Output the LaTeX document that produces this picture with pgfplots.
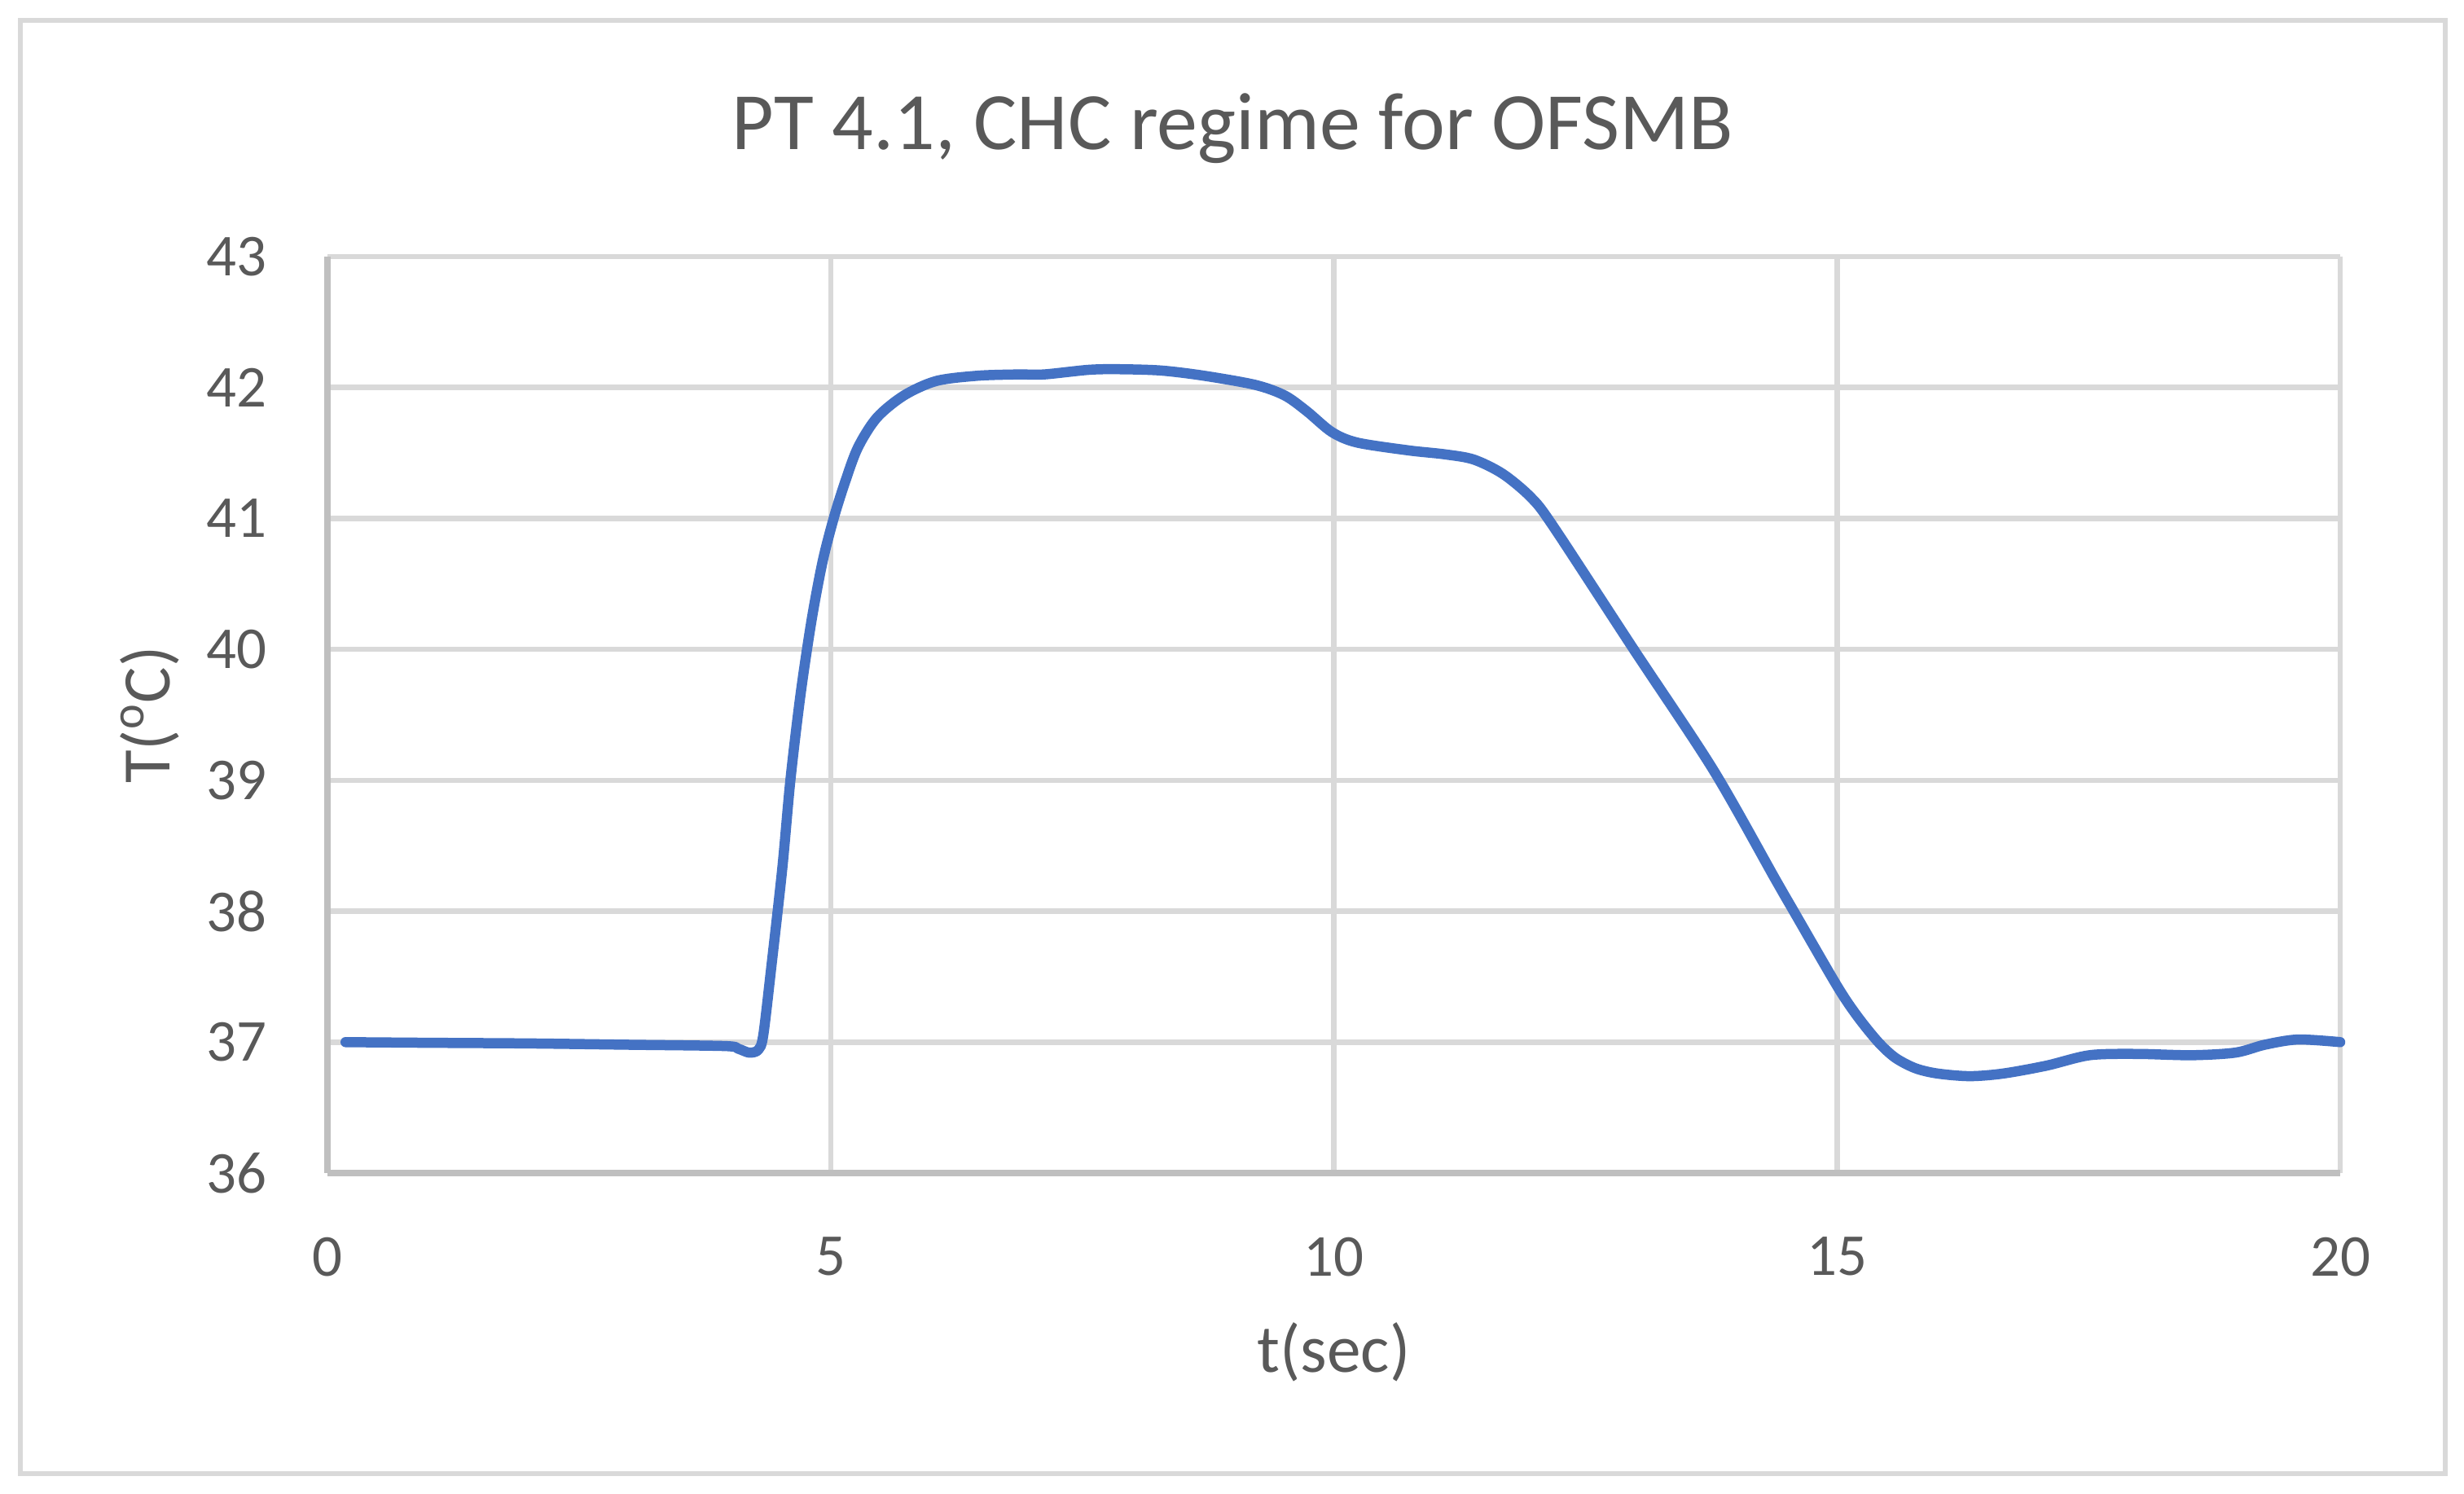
\documentclass[border=0pt]{standalone}
\usepackage{fontspec}
\setmainfont{Carlito}
\usepackage{pgfplots}
\pgfplotsset{compat=1.18}

\definecolor{txt}{HTML}{595959}
\definecolor{gridc}{HTML}{D9D9D9}
\definecolor{axisc}{HTML}{BFBFBF}
\definecolor{line}{HTML}{4472C4}

% temperature of PT 4.1 over time
\pgfplotstableread{
t     T
0.18  37.00
1.00  36.995
2.00  36.99
3.00  36.98
3.95  36.97
4.08  36.95
4.19  36.92
4.28  36.94
4.33  37.05
4.41  37.57
4.52  38.33
4.60  39.00
4.70  39.65
4.81  40.22
4.92  40.67
5.03  41.00
5.14  41.27
5.27  41.54
5.46  41.77
5.73  41.94
6.05  42.05
6.46  42.09
6.86  42.10
7.12  42.10
7.56  42.135
7.85  42.14
8.28  42.13
8.71  42.09
9.22  42.02
9.51  41.94
9.73  41.82
9.98  41.66
10.23 41.58
10.74 41.52
11.10 41.49
11.39 41.45
11.68 41.34
11.96 41.16
12.18 40.94
12.98 40.00
13.77 39.08
14.39 38.24
14.57 38.00
15.00 37.43
15.20 37.20
15.41 37.00
15.58 36.88
15.78 36.80
16.00 36.76
16.32 36.74
16.65 36.76
17.08 36.82
17.51 36.90
17.98 36.91
18.52 36.90
18.96 36.92
19.25 36.98
19.58 37.02
20.00 37.00
}\tempdata

\begin{document}
\begin{tikzpicture}
\path[use as bounding box] (0pt,0pt) rectangle (726pt,439.92pt);
\draw[gridc, line width=1.6pt] (6pt,5.76pt) rectangle (720.48pt,433.92pt);
\begin{axis}[
    at = {(96.48pt,94.32pt)}
  , anchor = south west
  , scale only axis
  , width = 593.04pt
  , height = 270pt
  , xmin = 0, xmax = 20
  , ymin = 36, ymax = 43
  , xtick = {0,5,10,15,20}
  , ytick = {36,37,...,43}
  , enlargelimits = false
  , axis lines = left
  , axis line style = {-, draw=axisc, line width=1.8pt}
  , major tick length = 0pt
  , grid = major
  , major grid style = {draw=gridc, line width=1.56pt}
  , clip = false
  , /pgf/number format/assume math mode=true
  , tick label style = {font=\fontsize{17.5}{21}\selectfont, text=txt, inner sep=0pt}
  , xticklabel style = {anchor=north, yshift=-18.7pt}
  , yticklabel style = {anchor=east, xshift=-17.8pt}
  , title = {PT 4.1, CHC regime for OFSMB}
  , title style = {at={(axis description cs:0.4498,1.095)}, anchor=base,
                   font=\fontsize{24}{29}\selectfont, text=txt}
  , xlabel = {t(sec)}
  , xlabel style = {at={(axis description cs:0.5,-0.2169)}, anchor=base,
                    font=\fontsize{20}{24}\selectfont, text=txt}
  , ylabel = {T(\textsuperscript{o}C)}
  , ylabel style = {at={(axis description cs:-0.0785,0.5)}, anchor=base,
                    font=\fontsize{20}{24}\selectfont, text=txt}
  ]
\addplot[line, line width=3pt, smooth, line cap=round, line join=round]
  table[x=t, y=T] {\tempdata};
\end{axis}
\end{tikzpicture}
\end{document}
